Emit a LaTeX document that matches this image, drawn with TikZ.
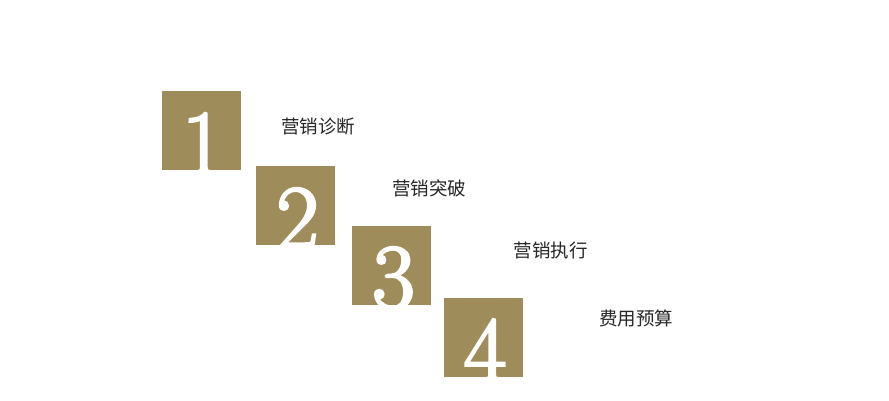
\documentclass[tikz,border=0pt]{standalone}
\usepackage{fontspec}
\newfontfamily\cjk{Noto Sans CJK SC}
\newfontfamily\digitfont[FakeBold=3]{Latin Modern Roman}
\definecolor{gold}{HTML}{9E8C5A}
\begin{document}
\begin{tikzpicture}[x=1pt,y=-1pt,
  sq/.style={fill=gold,draw=none,minimum size=79pt,inner sep=0pt,outer sep=0pt},
  digit/.style={text=white,font=\digitfont\fontsize{92}{92}\selectfont,inner sep=0pt,anchor=base},
  lbl/.style={font=\cjk\fontsize{18.5}{18.5}\selectfont,text=black!85,inner sep=0pt}]
\useasboundingbox (0,0) rectangle (889,400);
\fill[white] (0,0) rectangle (889,400);
% squares
\node[sq] (s1) at (201.5,130.5) {};
\node[sq] (s2) at (295,205.5) {};
\node[sq] (s3) at (391,265) {};
\node[sq] (s4) at (483,337.5) {};
\begin{scope}
\clip (s1.south west) rectangle (s1.north east);
\node[digit] (d1) at (203,174) {1};
\end{scope}
\begin{scope}
\clip (s2.south west) rectangle (s2.north east);
\node[digit] (d2) at (297.5,249) {2};
\end{scope}
\begin{scope}
\clip (s3.south west) rectangle (s3.north east);
\node[digit] (d3) at (393.5,308) {3};
\end{scope}
\begin{scope}
\clip (s4.south west) rectangle (s4.north east);
\node[digit] (d4) at (485,381) {4};
\end{scope}
% labels
\node[lbl] (t1) at (318,126) {营销诊断};
\node[lbl] (t2) at (429,188) {营销突破};
\node[lbl] (t3) at (550.5,250) {营销执行};
\node[lbl] (t4) at (636,318) {费用预算};
\end{tikzpicture}
\end{document}
